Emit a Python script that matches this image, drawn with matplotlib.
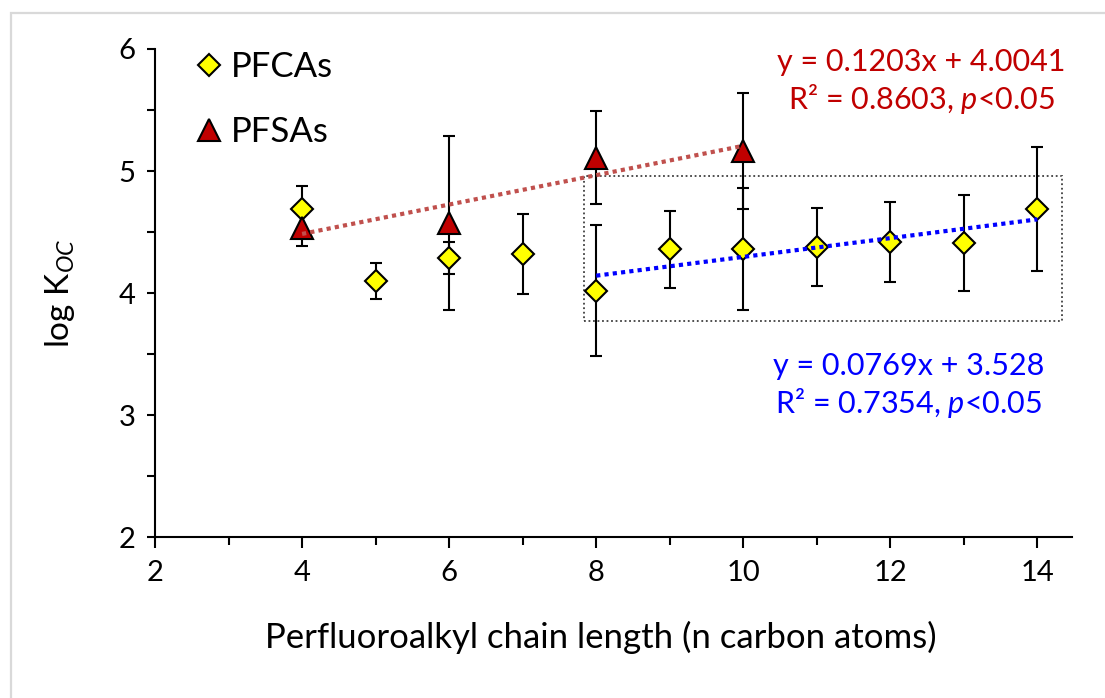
import numpy as np
import matplotlib
matplotlib.use("Agg")
import matplotlib.pyplot as plt
from matplotlib.patches import Rectangle
from matplotlib.ticker import MultipleLocator

plt.rcParams['font.family'] = ['Lato', 'DejaVu Sans']
plt.rcParams['mathtext.fontset'] = 'custom'
plt.rcParams['mathtext.rm'] = 'Lato'
plt.rcParams['mathtext.it'] = 'Lato:italic'

# data
pfca_x = [4, 5, 6, 7, 8, 9, 10, 11, 12, 13, 14]
pfca_y = [4.69, 4.10, 4.29, 4.32, 4.02, 4.36, 4.36, 4.38, 4.42, 4.41, 4.69]
pfca_err = [0.19, 0.145, 0.13, 0.33, 0.535, 0.315, 0.50, 0.32, 0.33, 0.395, 0.505]

pfsa_x = [4, 6, 8, 10]
pfsa_y = [4.53, 4.575, 5.11, 5.165]
pfsa_err = [0.14, 0.71, 0.38, 0.475]

# trendlines as printed on the chart
pfsa_fit = (0.1203, 4.0041)
pfca_fit = (0.0769, 3.528)
pfca_fit_x = [8, 14]
pfsa_fit_x = [4, 10]

# dotted box around the long-chain PFCAs
box_x = (7.83, 14.33)
box_y = (3.773, 4.956)

fig = plt.figure(figsize=(11.05, 6.98), dpi=100)
ax = fig.add_axes([0.1403, 0.2302, 0.8298, 0.6996])

# light chart-area border (only top and left show in the crop)
fig.add_artist(Rectangle((11 / 1105, -0.1), 1.2, 1.1 - 13 / 698, transform=fig.transFigure,
                         fill=False, ec='#D9D9D9', lw=1.6))

ax.errorbar(pfca_x, pfca_y, yerr=pfca_err, fmt='none', ecolor='black',
            elinewidth=1.5, capsize=4, capthick=1.5, zorder=2)
ax.errorbar(pfsa_x, pfsa_y, yerr=pfsa_err, fmt='none', ecolor='black',
            elinewidth=1.5, capsize=4, capthick=1.5, zorder=2)
h1, = ax.plot(pfca_x, pfca_y, 'D', ms=11.5, mfc='#FFFF00', mec='black',
              mew=1.5, ls='none', zorder=3, label='PFCAs')
h2, = ax.plot(pfsa_x, pfsa_y, '^', ms=16, mfc='#C00000', mec='black',
              mew=1.5, ls='none', zorder=4, label='PFSAs')

fx = np.array(pfsa_fit_x)
ax.plot(fx, pfsa_fit[0] * fx + pfsa_fit[1], color='#C0504D', lw=3,
        ls=(0, (1, 1)), zorder=5)
fx = np.array(pfca_fit_x)
ax.plot(fx, pfca_fit[0] * fx + pfca_fit[1], color='#0000FF', lw=3,
        ls=(0, (1, 1)), zorder=5)

ax.add_patch(Rectangle((box_x[0], box_y[0]), box_x[1] - box_x[0], box_y[1] - box_y[0],
                       fill=False, ec='#404040', lw=1.3, ls=(0, (1, 1.5)), zorder=1))

ax.text(12.42, 5.73, 'y = 0.1203x + 4.0041\nR² = 0.8603, $\\mathit{p}$<0.05',
        color='#C00000', fontsize=22, ha='center', va='center',
        multialignment='center', linespacing=1.25)
ax.text(12.245, 3.24, 'y = 0.0769x + 3.528\nR² = 0.7354, $\\mathit{p}$<0.05',
        color='#0000FF', fontsize=22, ha='center', va='center',
        multialignment='center', linespacing=1.25)

ax.set_xlim(2, 14.47)
ax.set_ylim(2, 6)
ax.xaxis.set_major_locator(MultipleLocator(2))
ax.xaxis.set_minor_locator(MultipleLocator(1))
ax.yaxis.set_major_locator(MultipleLocator(1))
ax.yaxis.set_minor_locator(MultipleLocator(0.5))
for s in ['top', 'right']:
    ax.spines[s].set_visible(False)
for s in ['left', 'bottom']:
    ax.spines[s].set_linewidth(1.5)
ax.tick_params(axis='x', which='major', length=8, width=1.5, pad=8, labelsize=21)
ax.tick_params(axis='x', which='minor', length=6, width=1.5)
ax.tick_params(axis='y', which='both', length=6, width=1.5, pad=8, labelsize=21)

ax.set_xlabel('Perfluoroalkyl chain length (n carbon atoms)', fontsize=25, va='center')
ax.xaxis.set_label_coords(0.486, -0.204)
ax.set_ylabel('log K$_{\\mathit{OC}}$', fontsize=24, va='center')
ax.yaxis.set_label_coords(-0.1036, 0.5)

ax.legend(handles=[h1, h2], loc='upper left', bbox_to_anchor=(0.047, 0.996),
          frameon=False, fontsize=25, handlelength=0.6, handletextpad=0.35,
          labelspacing=0.95, borderpad=0, borderaxespad=0)

fig.savefig('out.png', dpi=100)
